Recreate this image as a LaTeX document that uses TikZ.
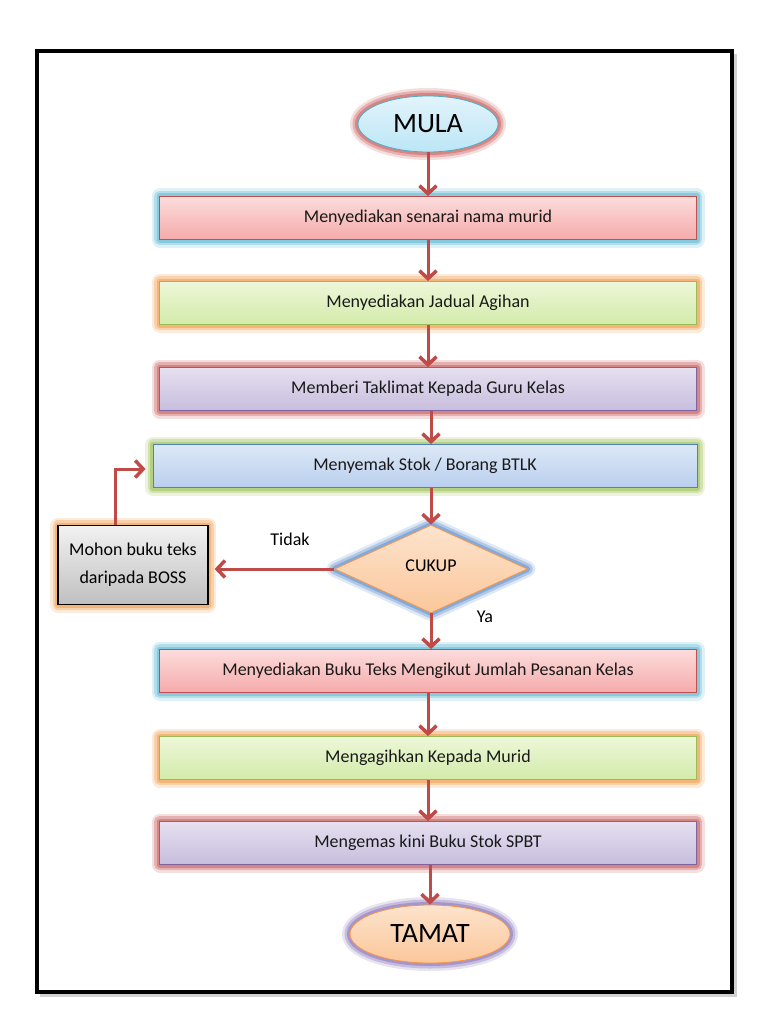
\documentclass[tikz,border=0pt]{standalone}
\usepackage{fontspec}
\setmainfont{Carlito}
\usetikzlibrary{shapes.geometric,arrows.meta}
\definecolor{arrred}{HTML}{BE4B48}
\definecolor{pinkT}{HTML}{FCDCDC}\definecolor{pinkB}{HTML}{F5AAAA}\definecolor{pinkD}{HTML}{C0504D}
\definecolor{greenT}{HTML}{EDF7D9}\definecolor{greenB}{HTML}{D3EBAA}\definecolor{greenD}{HTML}{9BBB59}
\definecolor{purpT}{HTML}{E6E0F0}\definecolor{purpB}{HTML}{C7BDDD}\definecolor{purpD}{HTML}{8064A2}
\definecolor{blueT}{HTML}{DDE8F6}\definecolor{blueB}{HTML}{B9CFEE}\definecolor{blueD}{HTML}{4F81BD}
\definecolor{orT}{HTML}{FDE3CC}\definecolor{orB}{HTML}{FBC79B}\definecolor{orD}{HTML}{F79646}
\definecolor{cyT}{HTML}{E2F4FB}\definecolor{cyB}{HTML}{BCE6F6}\definecolor{cyD}{HTML}{4BACC6}
\definecolor{gryT}{HTML}{F2F2F2}\definecolor{gryB}{HTML}{BFBFBF}
\definecolor{glowBlue}{HTML}{6FC0DA}\definecolor{glowOr}{HTML}{F2A85E}\definecolor{glowRed}{HTML}{D06E6B}
\definecolor{glowGreen}{HTML}{A9C86A}\definecolor{glowPur}{HTML}{9382C2}\definecolor{glowDiam}{HTML}{6E9AD2}
\tikzset{
  glow/.style={preaction={draw=#1,line width=16pt,opacity=0.22,line join=round},
               preaction={draw=#1,line width=11pt,opacity=0.4,line join=round},
               preaction={draw=#1,line width=6pt,opacity=0.65,line join=round}},
  pbox/.style={rectangle,minimum width=537pt,minimum height=43pt,font=\fontsize{18}{21}\selectfont,text=black!90,line width=0.8pt,inner sep=0pt},
  pinkbox/.style={pbox,glow=glowBlue,draw=pinkD,top color=pinkT,bottom color=pinkB},
  greenbox/.style={pbox,glow=glowOr,draw=greenD,top color=greenT,bottom color=greenB},
  purpbox/.style={pbox,glow=glowRed,draw=purpD,top color=purpT,bottom color=purpB},
  bluebox/.style={pbox,glow=glowGreen,draw=blueD,top color=blueT,bottom color=blueB},
  term/.style={ellipse,inner sep=0pt,font=\fontsize{28}{30}\selectfont,line width=0.8pt},
  arr/.style={draw=arrred,line width=3pt,-{Straight Barb[length=8pt,width=17pt,line width=3.5pt]}},
  lbl/.style={font=\fontsize{18}{21}\selectfont,inner sep=0pt}
}
\begin{document}
\begin{tikzpicture}[x=1pt,y=-1pt]
\useasboundingbox (0,0) rectangle (768,1024);
% frame with shadow
\fill[black!30,opacity=0.6] (40,54) rectangle (737,997);
\draw[line width=4pt,fill=white] (37,51) rectangle (732,992);
% nodes
\node[term,glow=glowRed,draw=cyD,top color=cyT,bottom color=cyB,minimum width=140pt,minimum height=56pt] (mula) at (428,124) {MULA};
\node[pinkbox] (b1) at (428,218) {Menyediakan senarai nama murid};
\node[greenbox] (b2) at (428,303) {Menyediakan Jadual Agihan};
\node[purpbox] (b3) at (428,389) {Memberi Taklimat Kepada Guru Kelas};
\node[bluebox,minimum width=544pt] (b4) at (425,466) {Menyemak Stok / Borang BTLK};
\node[diamond,glow=glowDiam,draw=orD,top color=orT,bottom color=orB,line width=0.8pt,minimum width=193pt,minimum height=88pt,inner sep=0pt,font=\fontsize{18}{21}\selectfont] (d) at (431,569) {\raisebox{6pt}{CUKUP}};
\node[rectangle,glow=glowOr,draw=black,line width=1.2pt,top color=gryT,bottom color=gryB,minimum width=150pt,minimum height=79pt,align=center,font=\fontsize{18}{28}\selectfont,inner sep=0pt] (m) at (133,565) {Mohon buku teks\\daripada BOSS};
\node[pinkbox] (b5) at (428,671) {Menyediakan Buku Teks Mengikut Jumlah Pesanan Kelas};
\node[greenbox] (b6) at (428,758) {Mengagihkan Kepada Murid};
\node[purpbox] (b7) at (428,843) {Mengemas kini Buku Stok SPBT};
\node[term,glow=glowPur,draw=orD,top color=orT,bottom color=orB,minimum width=160pt,minimum height=58pt] (tamat) at (430,934) {TAMAT};
\node[lbl] (tidak) at (290,539) {Tidak};
\node[lbl] (ya) at (485,617) {Ya};
% arrows
\draw[arr] (mula.south -| b1.north) -- (b1.north);
\draw[arr] (b1) -- (b2);
\draw[arr] (b2) -- (b3);
\draw[arr] (b3.south -| d.north) -- (b4.north -| d.north);
\draw[arr] (b4.south -| d.north) -- (d.north);
\draw[arr] (d.south) -- (b5.north -| d.south);
\draw[arr] (d.west) -- ([xshift=6pt]m.east |- d.west);
\draw[arr] ([xshift=-18pt]m.north) |- ([xshift=-7pt,yshift=-3pt]b4.west);
\draw[arr] (b5) -- (b6);
\draw[arr] (b6) -- (b7);
\draw[arr] (b7.south -| tamat.north) -- (tamat.north);
\end{tikzpicture}
\end{document}
